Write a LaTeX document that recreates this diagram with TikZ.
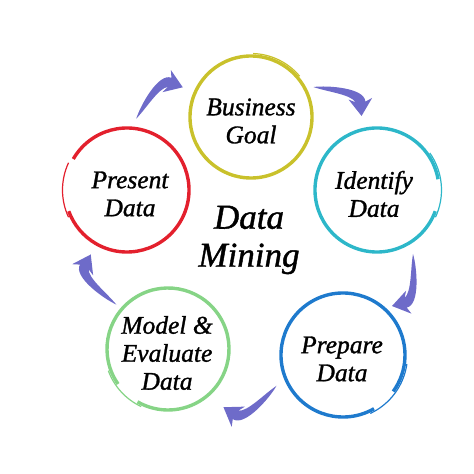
\documentclass[tikz,border=0pt]{standalone}
\usepackage{fontspec}
\setmainfont{Liberation Serif}[ItalicFeatures={FakeBold=1.2}]

\definecolor{goalcol}{HTML}{C9C12B}
\definecolor{identcol}{HTML}{2DB7C9}
\definecolor{prepcol}{HTML}{1E7ACD}
\definecolor{modelcol}{HTML}{86D486}
\definecolor{prescol}{HTML}{E3202D}
\definecolor{flowcol}{HTML}{6E6BC9}

\tikzset{
  ring/.style={line width=3.4pt},
  ringtail/.style={line width=1.2pt},
  circtext/.style={font=\itshape\fontsize{25.5}{28}\selectfont, align=center, inner sep=0pt},
  flowarrow/.pic={
    \fill[flowcol] (-26,0) .. controls (-16,8) and (15,24) .. (22.2,13.2)
      -- (25.8,19.4) -- (26,0) -- (7.8,6.8) -- (14.8,8)
      .. controls (7,12) and (-12,3) .. cycle;
  }
}

\begin{document}
\begin{tikzpicture}[x=1pt, y=1pt]
\useasboundingbox (0,0) rectangle (474,474);

%Centros
\coordinate (bus) at (251,357);
\coordinate (ident) at (377,284);
\coordinate (prep) at (343,119);
\coordinate (model) at (168,125);
\coordinate (pres) at (127,284);

%Anillos
\draw[ring, goalcol] ([shift={(92:61)}]bus) arc[start angle=92, end angle=-315, radius=61];
\draw[ringtail, goalcol] ([shift={(88:63.5)}]bus) arc[start angle=88, end angle=40, radius=63.5];

\draw[ring, identcol] ([shift={(-20:62)}]ident) arc[start angle=-20, end angle=-350, radius=62];
\draw[ringtail, identcol] ([shift={(35:64.5)}]ident) arc[start angle=35, end angle=-25, radius=64.5];

\draw[ring, prepcol] ([shift={(-60:62)}]prep) arc[start angle=-60, end angle=-396, radius=62];
\draw[ringtail, prepcol] ([shift={(-8:64.5)}]prep) arc[start angle=-8, end angle=-65, radius=64.5];

\draw[ring, modelcol] ([shift={(215:61)}]model) arc[start angle=215, end angle=-120, radius=61];
\draw[ringtail, modelcol] ([shift={(200:63.5)}]model) arc[start angle=200, end angle=245, radius=63.5];

\draw[ring, prescol] ([shift={(150:62)}]pres) arc[start angle=150, end angle=-160, radius=62];
\draw[ringtail, prescol] ([shift={(155:64.5)}]pres) arc[start angle=155, end angle=205, radius=64.5];

%Textos
\node[circtext] (bustext) at (251,353) {Business\\Goal};
\node[circtext] (identtext) at (374,280) {Identify\\Data};
\node[circtext] (preptext) at (342,115) {Prepare\\Data};
\node[circtext] (modeltext) at (167,121) {Model \&\\Evaluate\\Data};
\node[circtext] (prestext) at (130,280) {Present\\Data};
\node[font=\itshape\fontsize{35}{38}\selectfont, align=center, inner sep=0pt] (title) at (249,234) {Data\\Mining};

%Flechas
\pic[rotate=34, scale=1.08] at (159.5,371) {flowarrow};
\pic[rotate=-31, scale=1.08] at (337.5,372.5) {flowarrow};
\pic[rotate=-112, scale=1.08] at (402.5,194) {flowarrow};
\pic[rotate=202, scale=1.1] at (250,77.5) {flowarrow};
\pic[rotate=117, scale=1.08] at (103.5,194.5) {flowarrow};
\end{tikzpicture}
\end{document}
